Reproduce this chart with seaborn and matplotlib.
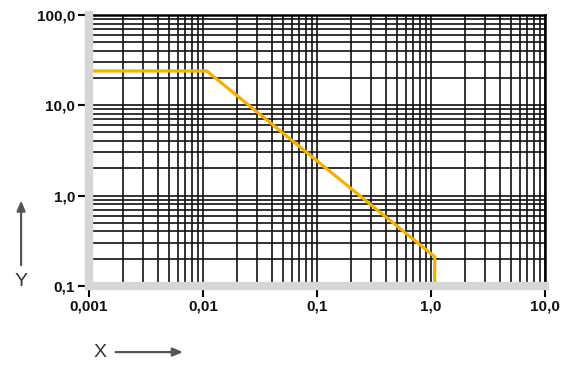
import pandas as pd
import seaborn as sns
import matplotlib.pyplot as plt
from matplotlib.patches import FancyArrowPatch
from matplotlib.ticker import FixedLocator, LogLocator, NullFormatter

# Curve (log-log)
x_vals = [0.001, 0.0108, 1.08, 1.08]
y_vals = [24.0, 24.0, 0.21, 0.1]

x_ticks = [0.001, 0.01, 0.1, 1.0, 10.0]
x_labels = ['0,001', '0,01', '0,1', '1,0', '10,0']
y_ticks = [0.1, 1.0, 10.0, 100.0]
y_labels = ['0,1', '1,0', '10,0', '100,0']

df = pd.DataFrame({'x': x_vals, 'y': y_vals})

sns.set_style('white')
plt.rcParams['font.family'] = ['Liberation Sans', 'DejaVu Sans']

fig = plt.figure(figsize=(5.7, 3.66), dpi=100)
ax = fig.add_axes([0.156, 0.219, 0.800, 0.740])

sns.lineplot(data=df, x='x', y='y', estimator=None, sort=False,
             color='#f5b000', linewidth=2.3, ax=ax, zorder=3)

ax.set_xscale('log')
ax.set_yscale('log')
ax.set_xlim(0.001, 10)
ax.set_ylim(0.1, 100)

ax.xaxis.set_major_locator(FixedLocator(x_ticks))
ax.yaxis.set_major_locator(FixedLocator(y_ticks))
ax.set_xticklabels(x_labels)
ax.set_yticklabels(y_labels)
ax.xaxis.set_minor_locator(LogLocator(base=10, subs=range(2, 10)))
ax.yaxis.set_minor_locator(LogLocator(base=10, subs=range(2, 10)))
ax.xaxis.set_minor_formatter(NullFormatter())
ax.yaxis.set_minor_formatter(NullFormatter())

ax.grid(which='both', color='#111111', linewidth=1.2, zorder=1)
ax.set_axisbelow(True)

ax.tick_params(axis='both', which='minor', length=0)
ax.tick_params(axis='both', which='major', bottom=True, left=True,
               direction='out', length=8, width=1.5, color='black',
               labelsize=11, pad=2)
for lab in ax.get_xticklabels() + ax.get_yticklabels():
    lab.set_fontweight('bold')
    lab.set_color('#111111')

for side in ['left', 'bottom']:
    ax.spines[side].set_color('#d6d6d6')
    ax.spines[side].set_linewidth(6)
    ax.spines[side].set_zorder(4)
for side in ['top', 'right']:
    ax.spines[side].set_color('black')
    ax.spines[side].set_linewidth(1.8)

ax.set_xlabel('')
ax.set_ylabel('')

# axis names with arrows
fig.text(0.037, 0.232, 'Y', fontsize=14, color='#333333', ha='center', va='center')
fig.patches.append(FancyArrowPatch(
    (0.037, 0.268), (0.037, 0.46), transform=fig.transFigure,
    arrowstyle='-|>,head_length=6,head_width=2.5', color='#555555', linewidth=1.6))
fig.text(0.175, 0.038, 'X', fontsize=14, color='#333333', ha='center', va='center')
fig.patches.append(FancyArrowPatch(
    (0.198, 0.038), (0.326, 0.038), transform=fig.transFigure,
    arrowstyle='-|>,head_length=6,head_width=2.5', color='#555555', linewidth=1.6))

fig.savefig('out.png', dpi=100)
